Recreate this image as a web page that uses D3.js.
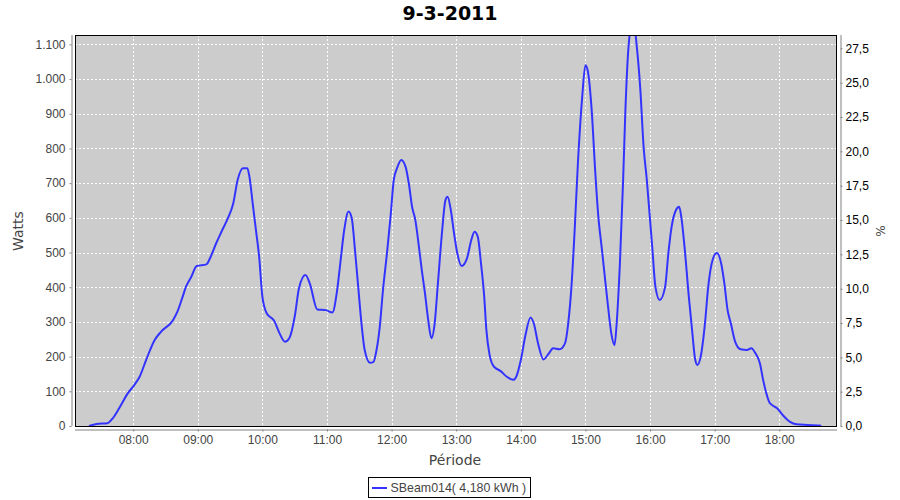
<!DOCTYPE html>
<html><head><meta charset="utf-8">
<script src="https://cdn.jsdelivr.net/npm/d3@7"></script>
<style>
body{margin:0;background:#fff;}
</style></head>
<body><svg id="c" width="900" height="500"></svg>
<script>
const title = "9-3-2011";
const seriesName = "SBeam014( 4,180 kWh )";
const times = ["07:19","07:26","07:36","07:41","07:47","07:55","08:01","08:06","08:12","08:20","08:26","08:37","08:41","08:46","08:49","08:54","08:59","09:08","09:12","09:17","09:22","09:28","09:33","09:37","09:42","09:46","09:48","09:51","09:54","09:57","10:00","10:04","10:11","10:16","10:21","10:25","10:30","10:34","10:40","10:44","10:51","10:59","11:05","11:09","11:12","11:16","11:20","11:23","11:26","11:29","11:32","11:35","11:40","11:43","11:46","11:49","11:52","11:56","11:59","12:02","12:05","12:09","12:13","12:16","12:19","12:22","12:25","12:28","12:31","12:34","12:37","12:40","12:43","12:47","12:50","12:52","12:55","12:58","13:01","13:05","13:10","13:14","13:17","13:20","13:23","13:26","13:28","13:31","13:35","13:41","13:47","13:53","13:56","14:00","14:04","14:09","14:12","14:16","14:21","14:26","14:30","14:36","14:41","14:44","14:47","14:50","14:53","14:57","15:00","15:02","15:06","15:09","15:12","15:15","15:18","15:21","15:24","15:27","15:29","15:32","15:35","15:37","15:40","15:44","15:48","15:51","15:54","15:57","16:00","16:02","16:05","16:09","16:14","16:17","16:20","16:24","16:27","16:29","16:32","16:36","16:39","16:42","16:44","16:47","16:51","16:54","16:58","17:02","17:06","17:09","17:12","17:15","17:19","17:24","17:30","17:34","17:38","17:42","17:45","17:48","17:51","17:58","18:04","18:10","18:16","18:26","18:39"];
const watts = [0,6,8,22,51,94,118,142,190,248,272,305,329,373,401,430,461,466,488,526,560,599,642,709,743,743,718,642,565,488,373,325,303,267,243,253,315,397,435,411,336,334,327,382,459,565,618,599,507,401,296,219,182,184,219,286,392,507,603,709,743,767,747,699,632,594,526,450,382,305,253,296,411,565,651,661,622,555,498,461,483,536,560,546,469,373,277,205,171,159,142,133,144,190,257,313,296,238,192,209,224,221,238,296,401,565,757,949,1040,1026,901,738,603,517,430,344,267,233,296,469,709,901,1093,1170,1084,968,805,709,594,517,401,363,401,498,574,622,632,603,517,373,277,190,176,200,296,401,478,499,469,411,334,296,243,221,219,224,209,181,133,94,67,51,29,12,5,3,1];
const xTicks = ["08:00","09:00","10:00","11:00","12:00","13:00","14:00","15:00","16:00","17:00","18:00"];
const leftTicks = [0,100,200,300,400,500,600,700,800,900,1000,1100];
const rightTicks = [0,2.5,5,7.5,10,12.5,15,17.5,20,22.5,25,27.5];

const parse = d3.timeParse("%H:%M");
const data = times.map((t,i)=>({t:parse(t), v:watts[i]}));

const L=75, R=837, T=35, B=426;
const svg = d3.select("#c");
const x = d3.scaleTime().domain([parse("07:06"), new Date(parse("18:53").getTime()+36000)]).range([L,R]);
const y = d3.scaleLinear().domain([0,1127]).range([B,T]);
const y2 = d3.scaleLinear().domain([0,28.47]).range([B,T]);
const loc = d3.formatLocale({decimal:",",thousands:".",grouping:[3],currency:["",""]});
const fL = loc.format(",d"), fR = loc.format(".1f");

svg.append("rect").attr("x",L).attr("y",T).attr("width",R-L).attr("height",B-T).attr("fill","#cccccc");
const g = svg.append("g");
xTicks.forEach(s=>{const xx=Math.round(x(parse(s)))+0.5;
  g.append("line").attr("x1",xx).attr("x2",xx).attr("y1",T).attr("y2",B).attr("stroke","#fff").attr("stroke-dasharray","2,2");});
leftTicks.forEach(v=>{const yy=Math.round(y(v))+0.5;
  g.append("line").attr("x1",L).attr("x2",R).attr("y1",yy).attr("y2",yy).attr("stroke","#fff").attr("stroke-dasharray","2,2");});

svg.append("clipPath").attr("id","clip").append("rect").attr("x",L).attr("y",T).attr("width",R-L).attr("height",B-T);
svg.append("path").datum(data).attr("clip-path","url(#clip)")
  .attr("d",d3.line().x(d=>x(d.t)).y(d=>y(d.v)).curve(d3.curveMonotoneX))
  .attr("fill","none").attr("stroke","#3333ff").attr("stroke-width",2);
svg.append("rect").attr("x",L+0.5).attr("y",T+0.5).attr("width",R-L-1).attr("height",B-T).attr("fill","none").attr("stroke","#000");

// axes
const ax = d3.axisBottom(x).tickValues(xTicks.map(parse)).tickFormat(d3.timeFormat("%H:%M")).tickSize(2).tickPadding(4);
const ayl = d3.axisLeft(y).tickValues(leftTicks).tickFormat(fL).tickSize(2).tickPadding(4);
const ayr = d3.axisRight(y2).tickValues(rightTicks).tickFormat(fR).tickSize(2).tickPadding(3);
function style(sel,col){sel.selectAll("path,line").attr("stroke","#808080");
  sel.selectAll("text").attr("fill",col).attr("font-size",12).attr("font-family","'Liberation Sans',Arial,sans-serif");}
const gx = svg.append("g").attr("transform","translate(0,429.5)").call(ax); style(gx,"#444");
gx.select(".domain").attr("d",`M${L},0.5H${R}`);
const gl = svg.append("g").attr("transform","translate(71.5,0)").call(ayl); style(gl,"#444");
gl.select(".domain").attr("d",`M0.5,${T}V${B}`);
const gr = svg.append("g").attr("transform","translate(840.5,0)").call(ayr); style(gr,"#000");
gr.select(".domain").attr("d",`M0.5,${T}V${B}`);

svg.append("text").attr("x",450).attr("y",20).attr("text-anchor","middle").attr("font-family","'DejaVu Sans',sans-serif").attr("font-weight","bold").attr("font-size",19).attr("fill","#000").text(title);
svg.append("text").attr("transform","translate(23,231) rotate(-90)").attr("text-anchor","middle").attr("font-family","'DejaVu Sans',sans-serif").attr("font-size",14).attr("fill","#444").text("Watts");
svg.append("text").attr("x",455).attr("y",465).attr("text-anchor","middle").attr("font-family","'DejaVu Sans',sans-serif").attr("font-size",14).attr("fill","#444").text("Période");
svg.append("text").attr("transform","translate(885,231) rotate(-90)").attr("text-anchor","middle").attr("font-family","'DejaVu Sans',sans-serif").attr("font-size",12).attr("fill","#444").text("%");

// legend
svg.append("rect").attr("x",368.5).attr("y",477.5).attr("width",162).attr("height",20).attr("fill","#fff").attr("stroke","#000");
svg.append("line").attr("x1",372).attr("x2",387).attr("y1",488).attr("y2",488).attr("stroke","#3333ff").attr("stroke-width",2);
svg.append("text").attr("x",390.5).attr("y",492).attr("font-family","'Liberation Sans',Arial,sans-serif").attr("font-size",12.4).attr("fill","#444").text(seriesName);
</script></body></html>
